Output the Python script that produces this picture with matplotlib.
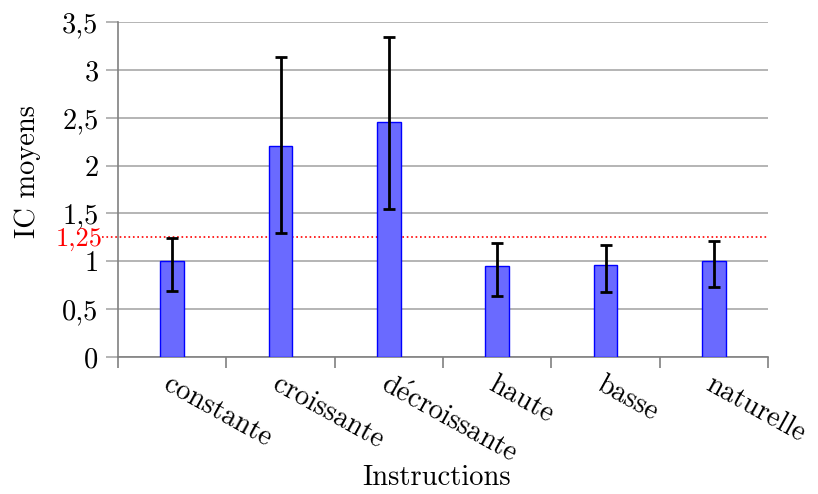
import matplotlib
matplotlib.use("Agg")
from matplotlib import pyplot as plt
from matplotlib.ticker import FixedLocator, FixedFormatter
import numpy as np

# data
categories = ['constante', 'croissante', r'd$\mathrm{\acute{e}}$croissante', 'haute', 'basse', 'naturelle']
means = [1.00, 2.20, 2.45, 0.95, 0.96, 1.00]
err_low = [0.31, 0.90, 0.90, 0.31, 0.28, 0.27]
err_high = [0.24, 0.93, 0.89, 0.24, 0.21, 0.21]
threshold = 1.25
threshold_label = '1,25'
ytick_vals = [0, 0.5, 1, 1.5, 2, 2.5, 3, 3.5]
ytick_labels = ['0', '0,5', '1', '1,5', '2', '2,5', '3', '3,5']

plt.rcParams['font.family'] = ['cmr10', 'DejaVu Serif']
plt.rcParams['mathtext.fontset'] = 'cm'
plt.rcParams['axes.unicode_minus'] = False

fs = 20.5

fig = plt.figure(figsize=(8.18, 4.94), dpi=100)
ax = fig.add_axes([0.1443, 0.2773, 0.7946, 0.6782])

x = np.arange(len(categories))
ax.bar(x, means, width=0.22, color='#6a6aff', edgecolor='#0000ff', linewidth=1.0, zorder=3)
ax.errorbar(x, means, yerr=[err_low, err_high], fmt='none', ecolor='black',
            elinewidth=2, capsize=4, capthick=2, zorder=4)

# seuil en rouge
ax.axhline(threshold, xmin=-0.025, xmax=1, color='red', linestyle=':', linewidth=1.2,
           zorder=2, clip_on=False)
ax.text(-0.024, threshold - 0.02, threshold_label, color='red', fontsize=19,
        transform=ax.get_yaxis_transform(), ha='right', va='center')

ax.set_xlim(-0.5, len(categories) - 0.5)
ax.set_ylim(0, 3.5)

ax.yaxis.set_major_locator(FixedLocator(ytick_vals))
ax.yaxis.set_major_formatter(FixedFormatter(ytick_labels))
ax.tick_params(axis='y', direction='out', length=9, width=1.2, color='#a8a8a8', labelsize=fs, pad=5)
ax.yaxis.grid(True, color='#a8a8a8', linewidth=1.2)
ax.set_axisbelow(True)

ax.set_xticks(x)
ax.set_xticklabels(categories, rotation=-29, ha='left', va='top', rotation_mode='anchor', fontsize=fs)
ax.tick_params(axis='x', which='major', length=0, pad=10)
ax.set_xticks(np.arange(-0.5, len(categories), 1.0), minor=True)
ax.tick_params(axis='x', which='minor', direction='out', length=8, color='#808080', width=1.2)

for s in ['top', 'right']:
    ax.spines[s].set_visible(False)
for s in ['left', 'bottom']:
    ax.spines[s].set_color('#808080')
    ax.spines[s].set_linewidth(1.2)

ax.set_ylabel('IC moyens', fontsize=fs)
ax.yaxis.set_label_coords(-0.118, 0.555)
ax.set_xlabel('Instructions', fontsize=fs)
ax.xaxis.set_label_coords(0.49, -0.32)

fig.savefig('out.png', dpi=100)
